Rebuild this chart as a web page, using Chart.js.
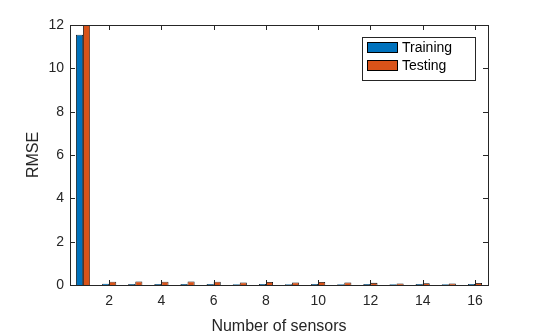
<!DOCTYPE html>
<html>
<head>
<meta charset="utf-8">
<script src="https://cdn.jsdelivr.net/npm/chart.js@4/dist/chart.umd.min.js"></script>
<style>
  html, body { margin: 0; padding: 0; background: #fff; }
  #wrap { width: 540px; height: 336px; }
</style>
</head>
<body>
<div id="wrap"><canvas id="rmseChart"></canvas></div>
<script>
Chart.defaults.font.family = '"Liberation Sans", Arial, sans-serif';
Chart.defaults.color = '#262626';

var sensors = ['1', '2', '3', '4', '5', '6', '7', '8', '9', '10', '11', '12', '13', '14', '15', '16'];
var trainingRmse = [11.55, 0.06, 0.05, 0.05, 0.05, 0.05, 0.04, 0.05, 0.04, 0.05, 0.04, 0.05, 0.04, 0.05, 0.04, 0.05];
var testingRmse = [12.0, 0.15, 0.16, 0.15, 0.16, 0.15, 0.12, 0.14, 0.12, 0.14, 0.12, 0.10, 0.07, 0.08, 0.07, 0.09];
var yTicks = [0, 2, 4, 6, 8, 10, 12];

// MATLAB style box, inward ticks and legend in the top right corner
var matlabBox = {
    id: 'matlabBox',
    afterDraw: function (chart) {
        var c = chart.ctx;
        var a = chart.chartArea;
        var xs = chart.scales.x;
        var ys = chart.scales.y;
        var tick = 5;
        c.save();
        c.strokeStyle = '#262626';
        c.lineWidth = 1;
        c.strokeRect(Math.round(a.left) + 0.5, Math.round(a.top) + 0.5, Math.round(a.right - a.left), Math.round(a.bottom - a.top));
        c.beginPath();
        for (var i = 0; i < sensors.length; i++) {
            if ((i + 1) % 2 !== 0) continue;
            var px = Math.round(xs.getPixelForValue(i)) + 0.5;
            c.moveTo(px, a.bottom); c.lineTo(px, a.bottom - tick);
            c.moveTo(px, a.top); c.lineTo(px, a.top + tick);
        }
        yTicks.forEach(function (v) {
            var py = Math.round(ys.getPixelForValue(v)) + 0.5;
            c.moveTo(a.left, py); c.lineTo(a.left + tick, py);
            c.moveTo(a.right, py); c.lineTo(a.right - tick, py);
        });
        c.stroke();

        // legend
        var lx = 362, ly = 37, lw = 113, lh = 43;
        c.fillStyle = '#fff';
        c.fillRect(lx, ly, lw, lh);
        c.strokeStyle = '#262626';
        c.strokeRect(lx + 0.5, ly + 0.5, lw, lh);
        c.font = '14px "Liberation Sans", Arial, sans-serif';
        c.textBaseline = 'middle';
        chart.data.datasets.forEach(function (ds, k) {
            var sy = ly + 5 + k * 18;
            c.fillStyle = ds.backgroundColor;
            c.fillRect(lx + 5, sy, 31, 11);
            c.strokeStyle = '#000';
            c.strokeRect(lx + 5.5, sy + 0.5, 30, 10);
            c.fillStyle = '#000';
            c.fillText(ds.label, lx + 40, sy + 6);
        });
        c.restore();
    }
};

var ctx = document.getElementById('rmseChart');
var myChart = new Chart(ctx, {
    type: 'bar',
    plugins: [matlabBox],
    data: {
        labels: sensors,
        datasets: [
            {
                label: 'Training',
                data: trainingRmse,
                backgroundColor: '#0072BD',
                borderColor: '#000',
                borderWidth: 0.8,
            },
            {
                label: 'Testing',
                data: testingRmse,
                backgroundColor: '#D95319',
                borderColor: '#000',
                borderWidth: 0.8,
            }
        ]
    },
    options: {
        responsive: true,
        maintainAspectRatio: false,
        animation: false,
        layout: {
            padding: { top: 25, right: 52, left: 0, bottom: 0 }
        },
        plugins: {
            legend: { display: false },
            tooltip: { enabled: false },
        },
        datasets: {
            bar: {
                categoryPercentage: 0.54,
                barPercentage: 1,
            }
        },
        scales: {
            x: {
                grid: { display: false, drawTicks: false },
                border: { display: false },
                ticks: {
                    autoSkip: false,
                    maxRotation: 0,
                    padding: 8,
                    font: { size: 14 },
                    callback: function (value, index) {
                        return (index + 1) % 2 === 0 ? sensors[index] : '';
                    }
                },
                title: {
                    display: true,
                    text: 'Number of sensors',
                    font: { size: 16 },
                    padding: { top: 2, bottom: 0 },
                },
                afterFit: function (scale) { scale.height = 51; }
            },
            y: {
                min: 0,
                max: 12,
                grid: { display: false, drawTicks: false },
                border: { display: false },
                ticks: {
                    stepSize: 2,
                    padding: 6,
                    font: { size: 14 },
                },
                title: {
                    display: true,
                    text: 'RMSE',
                    font: { size: 16 },
                    padding: { top: 24, bottom: 0 },
                },
                afterFit: function (scale) { scale.width = 70; }
            }
        }
    }
});
</script>
</body>
</html>
